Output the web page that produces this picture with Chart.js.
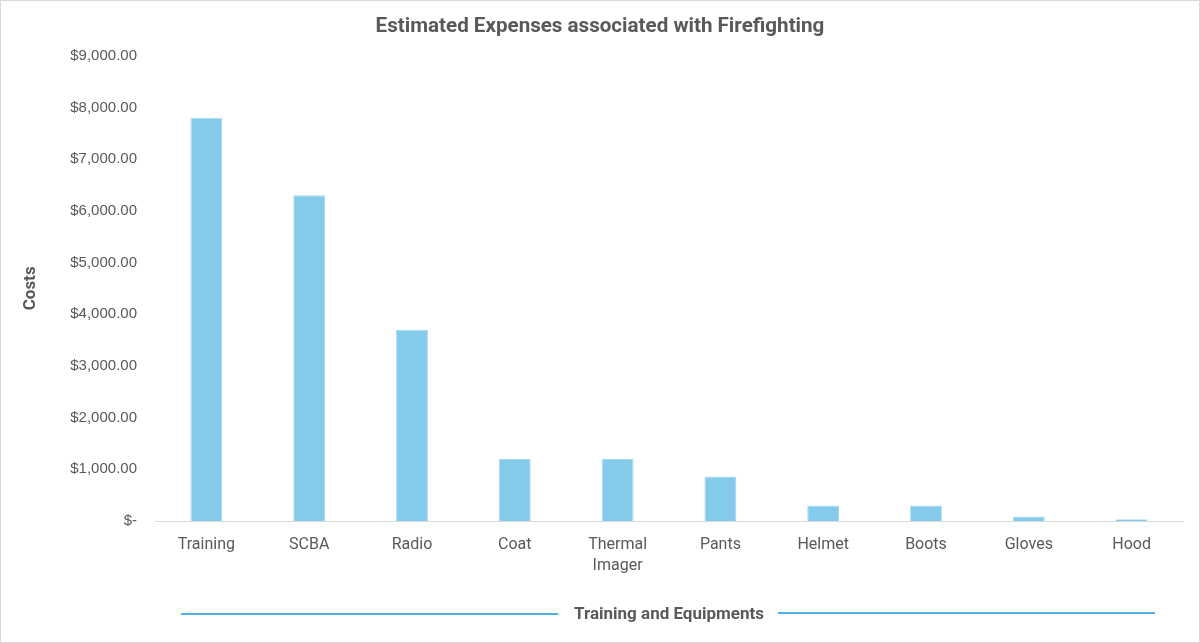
<!DOCTYPE html>
<html>
<head>
<meta charset="utf-8">
<script src="https://cdn.jsdelivr.net/npm/chart.js@4.4.1/dist/chart.umd.min.js"></script>
<style>
  html, body { margin: 0; padding: 0; background: #fff; }
  #wrap { width: 1200px; height: 643px; }
</style>
</head>
<body>
<div id="wrap"><canvas id="myChart" width="1200" height="643"></canvas></div>
<script>
const categories = ["Training", "SCBA", "Radio", "Coat", ["Thermal", "Imager"], "Pants", "Helmet", "Boots", "Gloves", "Hood"];
const costs = [7800, 6300, 3700, 1200, 1200, 860, 300, 300, 85, 35];
const yTicks = [0, 1000, 2000, 3000, 4000, 5000, 6000, 7000, 8000, 9000];

const grey = "#595959";

function money(v) {
  if (v === 0) return "$-";
  return "$" + v.toLocaleString("en-US", { minimumFractionDigits: 2, maximumFractionDigits: 2 });
}

// white background, thin frame and the two lines beside the x title
const decor = {
  id: "decor",
  beforeDraw(chart) {
    const c = chart.ctx;
    c.save();
    c.fillStyle = "#fff";
    c.fillRect(0, 0, chart.width, chart.height);
    c.restore();
  },
  afterDraw(chart) {
    const c = chart.ctx;
    const area = chart.chartArea;
    const x = chart.scales.x;
    c.save();
    c.strokeStyle = "#d9d9d9";
    c.lineWidth = 1;
    c.strokeRect(0.5, 0.5, chart.width - 1, chart.height - 1);

    c.font = "bold 17px Roboto";
    const w = c.measureText(x.options.title.text).width;
    const mid = (area.left + area.right) / 2;
    c.strokeStyle = "#4eb1e3";
    c.lineWidth = 2;
    c.beginPath();
    c.moveTo(area.left + 26, 614);
    c.lineTo(mid - w / 2 - 16, 614);
    c.moveTo(mid + w / 2 + 14, 613);
    c.lineTo(area.right - 28, 613);
    c.stroke();
    c.restore();
  }
};

const ctx = document.getElementById("myChart").getContext("2d");
const myChart = new Chart(ctx, {
  type: "bar",
  data: {
    labels: categories,
    datasets: [{
      label: "Costs",
      data: costs,
      backgroundColor: "#84cbeb",
      borderColor: "#a6daf2",
      borderWidth: 1,
      categoryPercentage: 1,
      barPercentage: 0.31
    }]
  },
  options: {
    responsive: false,
    animation: false,
    layout: { padding: 0 },
    plugins: {
      legend: { display: false },
      tooltip: { enabled: false },
      title: {
        display: true,
        text: "Estimated Expenses associated with Firefighting",
        color: grey,
        font: { family: "Roboto", size: 20.6, weight: "bold", lineHeight: 1.2 },
        padding: { top: 14, bottom: 17 }
      }
    },
    scales: {
      x: {
        grid: { display: false, drawTicks: false },
        border: { display: true, color: "#d9d9d9", width: 1 },
        ticks: {
          color: grey,
          padding: 14,
          maxRotation: 0,
          autoSkip: false,
          font: { family: "Roboto", size: 16, lineHeight: 1.3 }
        },
        title: {
          display: true,
          text: "Training and Equipments",
          color: grey,
          font: { family: "Roboto", size: 17, weight: "bold", lineHeight: 1.2 },
          padding: { top: 0, bottom: 18 }
        },
        afterFit(scale) { scale.height = 122; }
      },
      y: {
        min: 0,
        max: 9000,
        grid: { display: false, drawTicks: false },
        border: { display: false },
        afterBuildTicks(scale) { scale.ticks = yTicks.map(v => ({ value: v })); },
        ticks: {
          color: grey,
          padding: 18,
          font: { family: "Liberation Sans", size: 15 },
          callback: v => money(v)
        },
        title: {
          display: true,
          text: "Costs",
          color: grey,
          font: { family: "Roboto", size: 17, weight: "bold", lineHeight: 1.2 },
          padding: { top: 21, bottom: 0 }
        },
        afterFit(scale) { scale.width = 155; }
      },
      // empty right margin so the title stays centred on the whole chart
      gap: {
        type: "linear",
        position: "right",
        grid: { display: false, drawTicks: false },
        border: { display: false },
        ticks: { display: false },
        afterFit(scale) { scale.width = 17; }
      }
    }
  },
  plugins: [decor]
});
</script>
</body>
</html>
